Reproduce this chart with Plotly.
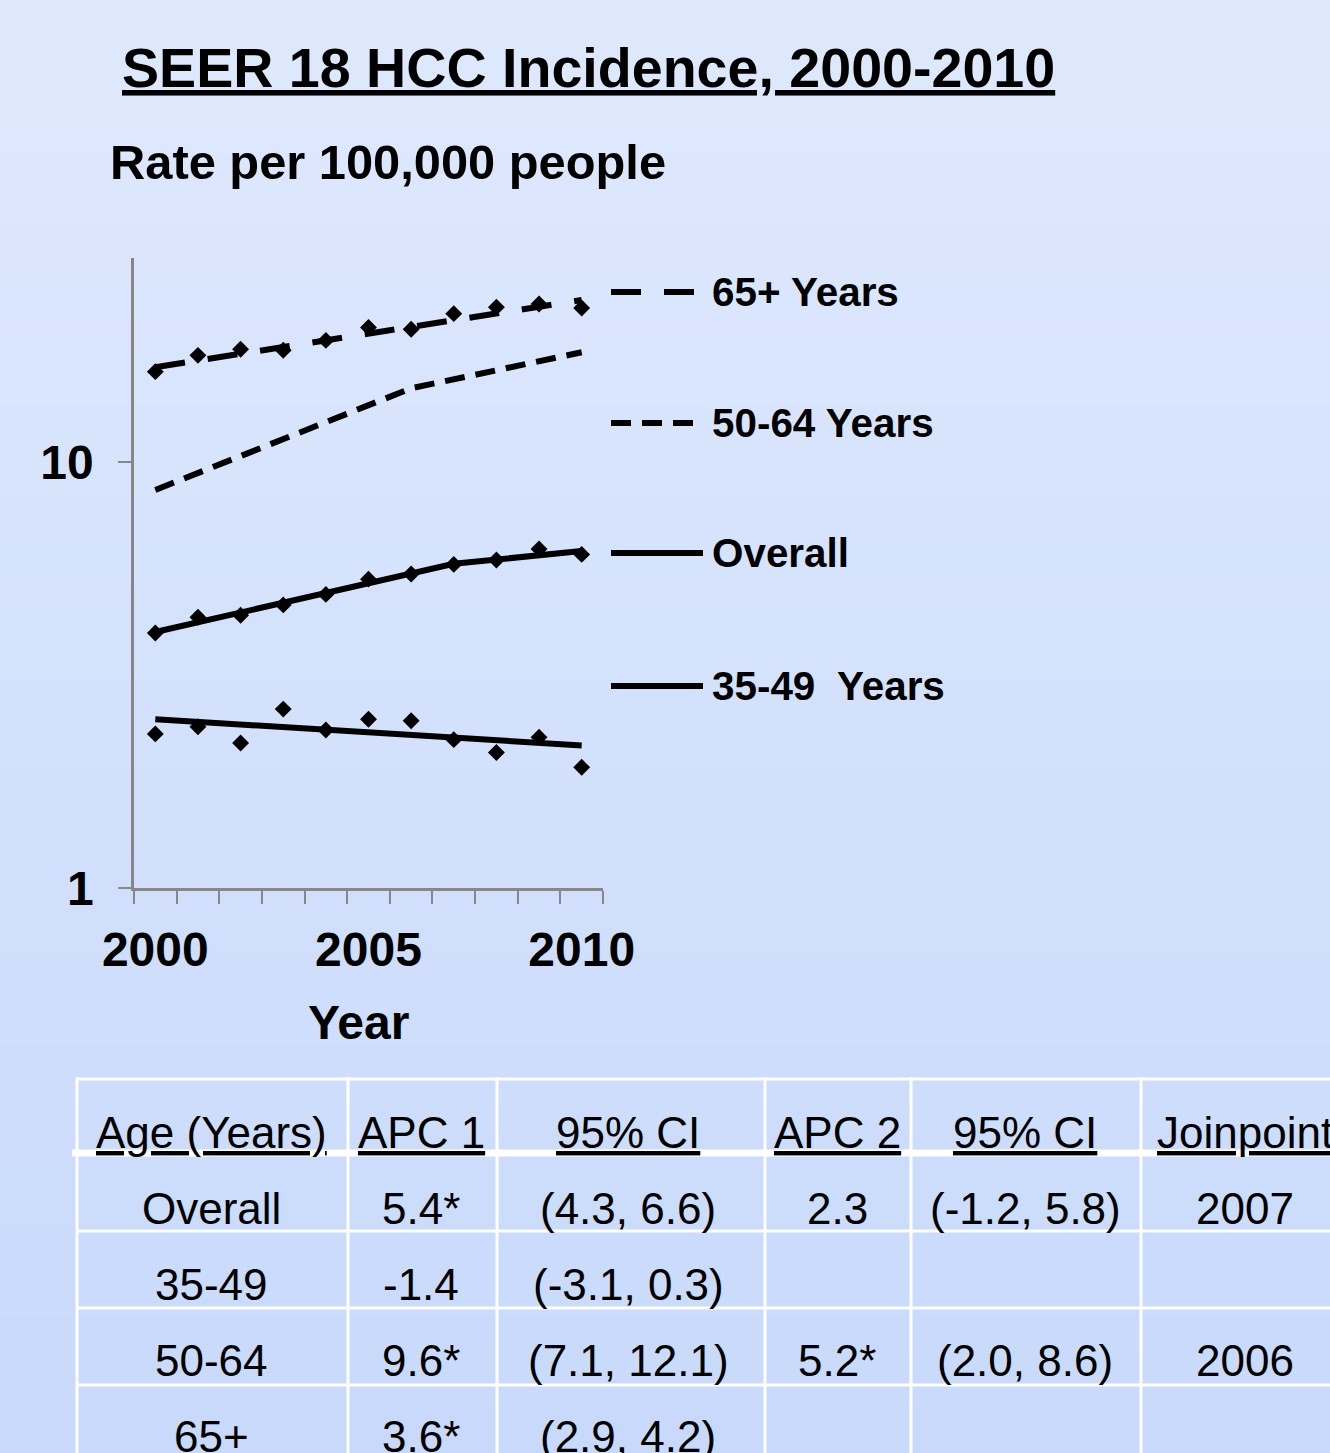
import base64
import struct
import zlib

import plotly.graph_objects as go

# ---------------------------------------------------------------- data
years = [2000, 2001, 2002, 2003, 2004, 2005, 2006, 2007, 2008, 2009, 2010]

# observed rates per 100,000
rate_65plus = [16.3, 17.8, 18.4, 18.3, 19.3, 20.7, 20.5, 22.3, 23.1, 23.5, 23.0]
rate_overall = [3.97, 4.32, 4.37, 4.62, 4.89, 5.31, 5.46, 5.75, 5.89, 6.25, 6.07]
rate_35_49 = [2.30, 2.39, 2.19, 2.63, 2.35, 2.49, 2.47, 2.23, 2.08, 2.26, 1.92]

# joinpoint model fits (segment end points)
fit_65plus_years = [2000, 2010]
fit_65plus = [16.7, 24.0]
fit_50_64_years = [2000, 2006, 2010]
fit_50_64 = [8.6, 14.9, 18.1]
fit_overall_years = [2000, 2007, 2010]
fit_overall = [3.99, 5.77, 6.18]
fit_35_49_years = [2000, 2010]
fit_35_49 = [2.49, 2.16]

legend_labels = ["65+ Years", "50-64 Years", "Overall", "35-49  Years"]

x_tick_vals = [2000, 2005, 2010]
y_tick_vals = [1, 10]

# APC table
table_header = ["Age (Years)", "APC 1", "95% CI", "APC 2", "95% CI", "Joinpoint"]
age_groups = ["Overall", "35-49", "50-64", "65+"]
apc1 = ["5.4*", "-1.4", "9.6*", "3.6*"]
ci1 = ["(4.3, 6.6)", "(-3.1, 0.3)", "(7.1, 12.1)", "(2.9, 4.2)"]
apc2 = ["2.3", "", "5.2*", ""]
ci2 = ["(-1.2, 5.8)", "", "(2.0, 8.6)", ""]
joinpoint = ["2007", "", "2006", ""]

# ---------------------------------------------------------------- layout geometry
W, H = 1330, 1453
L, R, T, B = 134, 727, 258, 565
PW, PH = W - L - R, H - T - B

FONT = "Liberation Sans, Arial, Helvetica, sans-serif"


def fx(px):
    return (px - L) / PW


def fy(py):
    return 1 - (py - T) / PH


def gradient_png(top, bottom, n=256):
    rows = b""
    for i in range(n):
        t = i / (n - 1)
        c = bytes(int(round(top[k] + (bottom[k] - top[k]) * t)) for k in range(3))
        rows += b"\x00" + c * 2

    def chunk(tag, data):
        return (struct.pack(">I", len(data)) + tag + data
                + struct.pack(">I", zlib.crc32(tag + data) & 0xFFFFFFFF))

    png = (b"\x89PNG\r\n\x1a\n"
           + chunk(b"IHDR", struct.pack(">IIBBBBB", 2, n, 8, 2, 0, 0, 0))
           + chunk(b"IDAT", zlib.compress(rows))
           + chunk(b"IEND", b""))
    return "data:image/png;base64," + base64.b64encode(png).decode()


fig = go.Figure()

LINE_W = 6
DASH_65 = "30px,23px"
DASH_50 = "20px,11px"

# fitted trend lines
fig.add_trace(go.Scatter(x=fit_65plus_years, y=fit_65plus, mode="lines",
                         line=dict(color="black", width=LINE_W, dash=DASH_65),
                         showlegend=False, hoverinfo="skip"))
fig.add_trace(go.Scatter(x=fit_50_64_years, y=fit_50_64, mode="lines",
                         line=dict(color="black", width=LINE_W, dash=DASH_50),
                         showlegend=False, hoverinfo="skip"))
fig.add_trace(go.Scatter(x=fit_overall_years, y=fit_overall, mode="lines",
                         line=dict(color="black", width=LINE_W),
                         showlegend=False, hoverinfo="skip"))
fig.add_trace(go.Scatter(x=fit_35_49_years, y=fit_35_49, mode="lines",
                         line=dict(color="black", width=LINE_W),
                         showlegend=False, hoverinfo="skip"))

# observed points
for series in (rate_65plus, rate_overall, rate_35_49):
    fig.add_trace(go.Scatter(x=years, y=series, mode="markers",
                             marker=dict(symbol="diamond", size=13, color="black"),
                             showlegend=False))

shapes = []
annotations = []

# hand-drawn legend to the right of the plot
legend_rows = [
    (legend_labels[0], 292, 695, DASH_65),
    (legend_labels[1], 423, 695, DASH_50),
    (legend_labels[2], 553, 703, "solid"),
    (legend_labels[3], 686, 703, "solid"),
]
for label, ypx, xend, dash in legend_rows:
    shapes.append(dict(type="line", xref="paper", yref="paper",
                       x0=fx(611), x1=fx(xend), y0=fy(ypx), y1=fy(ypx),
                       line=dict(color="black", width=LINE_W, dash=dash)))
    annotations.append(dict(text=label, xref="paper", yref="paper",
                            x=fx(710), y=fy(ypx), xanchor="left", yanchor="middle",
                            showarrow=False,
                            font=dict(family=FONT, size=40.4, color="black", weight="bold")))

# titles
annotations.append(dict(text="<u>SEER 18 HCC Incidence, 2000-2010</u>",
                        xref="paper", yref="paper", x=fx(120), y=fy(68),
                        xanchor="left", yanchor="middle", showarrow=False,
                        font=dict(family=FONT, size=55.6, color="black", weight="bold")))
annotations.append(dict(text="Rate per 100,000 people",
                        xref="paper", yref="paper", x=fx(108), y=fy(162),
                        xanchor="left", yanchor="middle", showarrow=False,
                        font=dict(family=FONT, size=48.8, color="black", weight="bold")))
annotations.append(dict(text="Year",
                        xref="paper", yref="paper", x=fx(358), y=fy(1022),
                        xanchor="center", yanchor="middle", showarrow=False,
                        font=dict(family=FONT, size=48, color="black", weight="bold")))

# APC table: white grid
col_edges = [77, 348, 497, 765, 911, 1141]
row_edges = [1079, 1153, 1231, 1308, 1385]
for xe in col_edges:
    shapes.append(dict(type="line", xref="paper", yref="paper",
                       x0=fx(xe), x1=fx(xe), y0=fy(1077), y1=fy(H + 5),
                       line=dict(color="white", width=3)))
for ye in row_edges:
    thick = ye == 1153
    shapes.append(dict(type="line", xref="paper", yref="paper",
                       x0=fx(72 if thick else 77), x1=fx(W + 5), y0=fy(ye), y1=fy(ye),
                       line=dict(color="white", width=7 if thick else 3)))

col_centers = [211, 421, 628, 837, 1025, 1245]
header_y = 1132
row_centers = [1208, 1284, 1360, 1436]
table_font = dict(family=FONT, size=44, color="black")

for cx, head in zip(col_centers, table_header):
    annotations.append(dict(text=f"<u>{head}</u>", xref="paper", yref="paper",
                            x=fx(cx), y=fy(header_y), xanchor="center", yanchor="middle",
                            showarrow=False, font=table_font))

columns = [age_groups, apc1, ci1, apc2, ci2, joinpoint]
for cx, col in zip(col_centers, columns):
    for cy, val in zip(row_centers, col):
        if val:
            annotations.append(dict(text=val, xref="paper", yref="paper",
                                    x=fx(cx), y=fy(cy), xanchor="center", yanchor="middle",
                                    showarrow=False, font=table_font))

axis_grey = "#878787"

fig.update_layout(
    width=W, height=H,
    margin=dict(l=L, r=R, t=T, b=B, pad=0),
    paper_bgcolor="#d6e3fc",
    plot_bgcolor="rgba(0,0,0,0)",
    showlegend=False,
    shapes=shapes,
    annotations=annotations,
    images=[dict(source=gradient_png((223, 233, 253), (200, 217, 251)),
                 xref="paper", yref="paper", x=-L / PW, y=1 + T / PH,
                 sizex=W / PW, sizey=H / PH, xanchor="left", yanchor="top",
                 sizing="stretch", layer="below")],
    xaxis=dict(
        range=[1999.5, 2010.5],
        tickvals=x_tick_vals,
        ticks="",
        showgrid=False, zeroline=False,
        showline=True, linecolor=axis_grey, linewidth=2.5,
        tickfont=dict(family=FONT, size=48, color="black", weight="bold"),
        ticklabelstandoff=18,
        minor=dict(tickvals=[y - 0.5 for y in years] + [years[-1] + 0.5],
                   ticks="outside", ticklen=13, tickwidth=2, tickcolor=axis_grey,
                   showgrid=False),
    ),
    yaxis=dict(
        type="log",
        range=[0, 1.479],
        tickvals=y_tick_vals,
        ticktext=[str(v) for v in y_tick_vals],
        ticks="outside", ticklen=13, tickwidth=2, tickcolor=axis_grey,
        showgrid=False, zeroline=False,
        showline=True, linecolor=axis_grey, linewidth=2.5,
        tickfont=dict(family=FONT, size=48, color="black", weight="bold"),
        ticklabelstandoff=15,
    ),
)

fig.write_html("out.html")
